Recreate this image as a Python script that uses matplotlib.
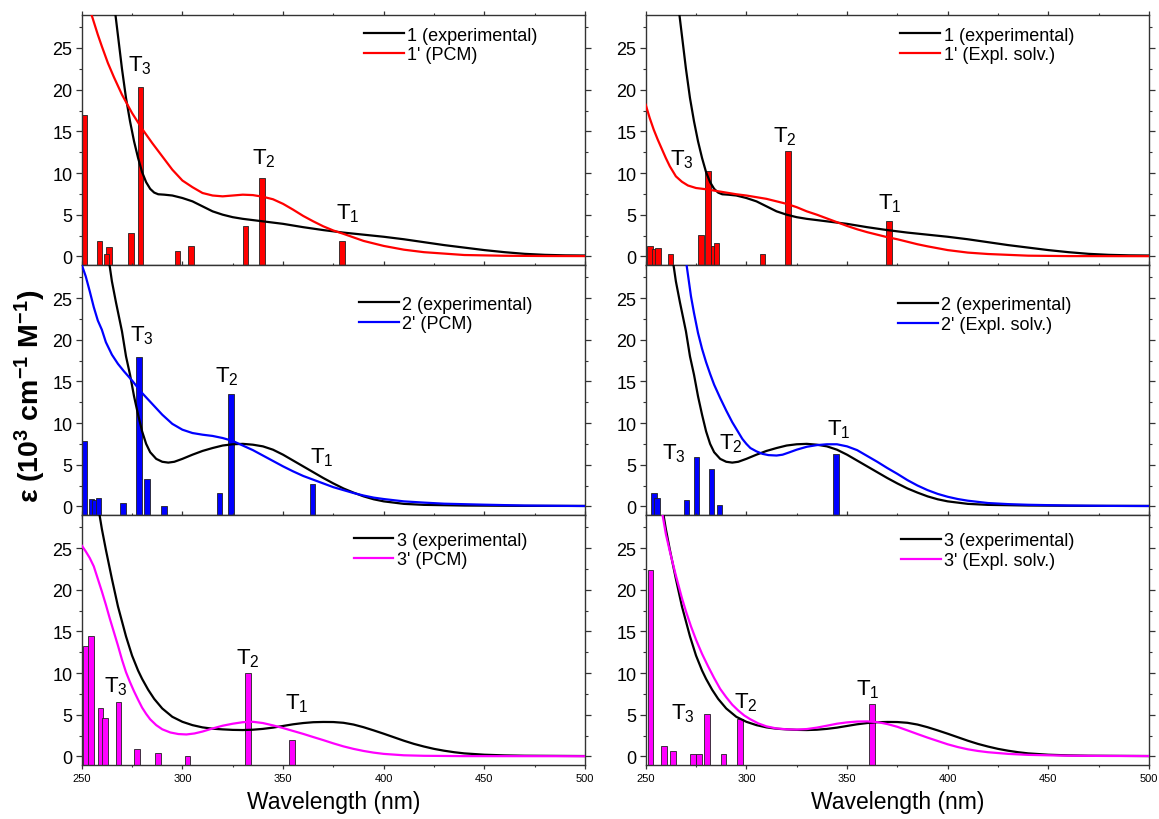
import matplotlib
matplotlib.use('Agg')
import matplotlib.pyplot as plt
from matplotlib.ticker import MultipleLocator

plt.rcParams['font.family'] = ['Liberation Sans', 'DejaVu Sans']
plt.rcParams['mathtext.fontset'] = 'custom'
plt.rcParams['mathtext.rm'] = 'Liberation Sans'
plt.rcParams['mathtext.bf'] = 'Liberation Sans:bold'
plt.rcParams['mathtext.it'] = 'Liberation Sans:italic'

# experimental spectra (same in both columns)
exp1_nm = [266.5, 268, 270, 272, 274, 276, 278, 280, 282, 284, 286, 288, 291, 295, 300, 305, 310, 315, 320, 325,
           330, 340, 350, 360, 370, 380, 390, 400, 410, 420, 430, 440, 450, 460, 470, 480, 490, 500]
exp1_eps = [29.5, 26.5, 22.5, 19.0, 16.2, 13.8, 11.8, 10.1, 8.9, 8.1, 7.65, 7.45, 7.4, 7.3, 7.0, 6.6, 6.0, 5.4, 5.0, 4.7,
            4.5, 4.2, 3.9, 3.5, 3.15, 2.85, 2.6, 2.35, 2.05, 1.7, 1.35, 1.05, 0.75, 0.5, 0.3, 0.18, 0.12, 0.1]

exp2_nm = [263.5, 265, 267, 270, 272, 274, 276, 278, 280, 282, 284, 287, 290, 293, 296, 300, 305, 310, 315, 320,
           325, 330, 335, 340, 345, 350, 355, 360, 365, 370, 375, 380, 385, 390, 395, 400, 410, 420, 440, 470, 500]
exp2_eps = [29.5, 27.0, 24.5, 21.0, 18.0, 15.8, 13.2, 11.0, 9.0, 7.5, 6.5, 5.7, 5.35, 5.25, 5.35, 5.7, 6.2, 6.65, 7.0, 7.3,
            7.45, 7.5, 7.4, 7.2, 6.8, 6.2, 5.5, 4.8, 4.1, 3.4, 2.75, 2.15, 1.65, 1.2, 0.85, 0.6, 0.3, 0.18, 0.1, 0.06, 0.05]

exp3_nm = [258.5, 260, 262, 265, 268, 270, 272, 275, 278, 280, 283, 286, 290, 295, 300, 305, 310, 315, 320, 325,
           330, 335, 340, 345, 350, 355, 360, 365, 370, 375, 380, 385, 390, 395, 400, 405, 410, 415, 420, 425,
           430, 435, 440, 450, 460, 470, 500]
exp3_eps = [29.5, 27.3, 24.8, 21.3, 18.0, 16.2, 14.4, 12.1, 10.3, 9.3, 8.0, 6.9, 5.75, 4.75, 4.15, 3.75, 3.48, 3.32, 3.24, 3.18,
            3.16, 3.2, 3.3, 3.45, 3.65, 3.85, 4.0, 4.1, 4.13, 4.12, 4.03, 3.82, 3.5, 3.12, 2.72, 2.3, 1.88, 1.5, 1.18, 0.9,
            0.68, 0.5, 0.36, 0.2, 0.12, 0.08, 0.04]

# computed spectra, PCM (left column)
pcm1_nm = [252, 255, 258, 260, 263, 266, 270, 275, 280, 285, 290, 295, 300, 305, 310, 315, 320, 325, 330, 335,
           340, 345, 350, 355, 360, 365, 370, 375, 380, 390, 400, 410, 420, 440, 460, 480, 500]
pcm1_eps = [30.5, 28.9, 26.6, 25.2, 23.2, 21.5, 19.4, 17.2, 15.3, 13.6, 12.0, 10.4, 9.1, 8.3, 7.6, 7.3, 7.2, 7.3, 7.4, 7.35,
            7.15, 6.85, 6.3, 5.6, 4.85, 4.2, 3.6, 3.1, 2.7, 1.85, 1.25, 0.8, 0.5, 0.16, 0.07, 0.04, 0.03]

pcm2_nm = [250, 252, 254, 256, 258, 260, 262, 265, 268, 271, 275, 280, 285, 290, 295, 300, 305, 310, 315, 320,
           325, 330, 335, 340, 345, 350, 355, 360, 365, 370, 375, 380, 385, 390, 395, 400, 410, 420, 430, 450, 470, 500]
pcm2_eps = [29.0, 27.6, 25.8, 23.9, 22.3, 21.2, 19.7, 18.2, 17.1, 16.2, 15.1, 13.6, 12.3, 11.0, 9.9, 9.2, 8.8, 8.6, 8.45, 8.2,
            7.85, 7.3, 6.75, 6.1, 5.45, 4.8, 4.2, 3.65, 3.2, 2.75, 2.3, 1.95, 1.6, 1.3, 1.05, 0.88, 0.6, 0.45, 0.32, 0.2, 0.1, 0.04]

pcm3_nm = [250, 252, 254, 256, 258, 260, 262, 264, 266, 268, 270, 272, 274, 276, 278, 280, 282, 284, 287, 290,
           294, 298, 302, 306, 310, 315, 320, 325, 330, 335, 340, 345, 350, 355, 360, 365, 370, 375, 380, 385,
           390, 395, 400, 410, 420, 440, 500]
pcm3_eps = [25.3, 24.6, 23.8, 22.8, 21.3, 19.8, 18.2, 16.5, 14.9, 13.3, 11.6, 10.1, 8.9, 7.8, 6.8, 5.85, 5.1, 4.45, 3.75, 3.25,
            2.87, 2.68, 2.63, 2.75, 2.98, 3.35, 3.68, 3.92, 4.1, 4.15, 4.0, 3.72, 3.4, 3.05, 2.7, 2.32, 1.95, 1.56, 1.2, 0.9,
            0.65, 0.45, 0.3, 0.13, 0.07, 0.03, 0.02]

# computed spectra, explicit solvent (right column)
sol1_nm = [250, 252, 254, 256, 258, 260, 262, 265, 268, 271, 275, 280, 285, 290, 295, 300, 305, 310, 315, 320,
           325, 330, 335, 340, 345, 350, 355, 360, 365, 370, 375, 380, 385, 390, 400, 410, 420, 440, 460, 500]
sol1_eps = [18.2, 16.6, 15.2, 14.0, 12.9, 11.8, 10.8, 9.6, 8.95, 8.5, 8.2, 8.05, 7.85, 7.65, 7.45, 7.3, 7.1, 6.9, 6.6, 6.3,
            5.9, 5.4, 5.0, 4.55, 4.1, 3.65, 3.25, 2.9, 2.6, 2.3, 2.05, 1.75, 1.45, 1.2, 0.75, 0.45, 0.28, 0.08, 0.03, 0.02]

sol2_nm = [270, 272.5, 274, 276, 278, 280, 282, 284, 287, 290, 293, 296, 298, 300, 302, 305, 308, 311, 315, 318,
           321, 325, 330, 335, 340, 345, 350, 355, 360, 365, 370, 375, 380, 385, 390, 395, 400, 405, 410, 420,
           430, 440, 460, 480, 500]
sol2_eps = [29.5, 25.2, 23.2, 20.8, 18.9, 17.3, 15.9, 14.6, 13.0, 11.5, 10.1, 8.9, 8.1, 7.5, 7.0, 6.6, 6.3, 6.15, 6.1, 6.2,
            6.45, 6.8, 7.15, 7.35, 7.45, 7.45, 7.2, 6.75, 6.05, 5.35, 4.6, 3.9, 3.15, 2.5, 1.95, 1.5, 1.15, 0.88, 0.68, 0.4,
            0.27, 0.19, 0.1, 0.06, 0.04]

sol3_nm = [258, 260, 262, 265, 268, 270, 272.5, 275, 278, 281, 284, 287, 290, 293, 296, 299, 302, 306, 310, 315,
           320, 325, 330, 335, 340, 345, 350, 355, 360, 365, 370, 375, 380, 385, 390, 395, 400, 405, 410, 415,
           420, 430, 440, 460, 480, 500]
sol3_eps = [29.5, 26.7, 24.6, 21.7, 19.0, 17.4, 15.6, 14.0, 12.3, 10.8, 9.4, 8.1, 7.1, 6.2, 5.5, 4.9, 4.45, 3.95, 3.6, 3.35,
            3.25, 3.22, 3.28, 3.45, 3.68, 3.92, 4.08, 4.18, 4.2, 4.12, 3.88, 3.55, 3.12, 2.68, 2.25, 1.85, 1.45, 1.12, 0.85, 0.65,
            0.5, 0.3, 0.18, 0.08, 0.05, 0.04]

# transitions (sticks)
st1_pcm_nm = [251.0, 258.8, 263.6, 262.3, 274.4, 279.2, 297.6, 304.2, 331.3, 339.5, 379.2]
st1_pcm_f = [17.0, 1.8, 1.1, 0.3, 2.8, 20.3, 0.6, 1.3, 3.7, 9.4, 1.9]
st1_sol_nm = [252.2, 254.5, 256.2, 262.3, 277.5, 281.0, 283.6, 285.2, 308.1, 320.7, 371.0]
st1_sol_f = [1.2, 0.9, 1.0, 0.3, 2.6, 10.3, 1.2, 1.6, 0.3, 12.6, 4.3]

st2_pcm_nm = [251.3, 254.8, 256.5, 258.3, 270.4, 278.3, 282.5, 291.0, 318.4, 324.1, 364.7]
st2_pcm_f = [7.9, 0.9, 0.8, 1.0, 0.45, 17.9, 3.25, 0.1, 1.65, 13.5, 2.7]
st2_sol_nm = [248.9, 254.1, 255.7, 270.3, 275.3, 282.7, 286.7, 344.6]
st2_sol_f = [13.5, 1.55, 1.0, 0.75, 5.9, 4.45, 0.15, 6.3]

st3_pcm_nm = [252.0, 254.6, 259.4, 261.6, 268.2, 277.4, 287.9, 302.6, 332.5, 354.6]
st3_pcm_f = [13.2, 14.4, 5.8, 4.6, 6.5, 0.9, 0.35, 0.05, 10.0, 2.0]
st3_sol_nm = [252.4, 259.2, 263.7, 273.6, 276.4, 280.4, 288.6, 296.9, 362.4]
st3_sol_f = [22.4, 1.25, 0.65, 0.3, 0.25, 5.05, 0.25, 4.45, 6.25]

# T1..T3 label anchors (lower-left of the "T")
lab1_pcm = [(376.1, 4.56), (334.4, 11.2), (273.0, 22.3)]
lab1_sol = [(365.3, 5.76), (313.1, 13.8), (262.0, 11.0)]
lab2_pcm = [(363.2, 5.3), (316.0, 15.0), (274.1, 19.9)]
lab2_sol = [(340.2, 8.6), (286.3, 7.0), (258.1, 5.8)]
lab3_pcm = [(350.9, 5.7), (326.5, 11.2), (261.2, 7.85)]
lab3_sol = [(354.6, 7.44), (293.9, 5.84), (262.4, 4.56)]

YMIN, YMAX = -1, 29

fig = plt.figure(figsize=(11.59, 8.2), dpi=100)

lefts = [0.0705, 0.5571]
w = 0.4343
h = 0.3049
bottoms = [0.0662 + 2 * h, 0.0662 + h, 0.0662]


def panel(ax, exp_nm, exp_eps, calc_nm, calc_eps, st_nm, st_f, labels, color, lab_exp, lab_calc, leg_xy, bottom_row):
    ax.bar(st_nm, [f - YMIN for f in st_f], bottom=YMIN, width=2.8, color=color,
           edgecolor='#222222', linewidth=0.6, zorder=2)
    l1, = ax.plot(exp_nm, exp_eps, color='black', lw=1.6, zorder=3)
    l2, = ax.plot(calc_nm, calc_eps, color=color, lw=1.6, zorder=3)
    for i, (x, y) in enumerate(labels):
        ax.text(x, y, r'$\mathregular{T_%d}$' % (i + 1), fontsize=16, ha='left', va='baseline', zorder=4)
    ax.legend([l1, l2], [lab_exp, lab_calc], loc='upper left', bbox_to_anchor=leg_xy, frameon=False,
              fontsize=13, handlelength=2.2, handletextpad=0.2, labelspacing=0.15, borderpad=0,
              borderaxespad=0)
    ax.set_xlim(250, 500)
    ax.set_ylim(YMIN, YMAX)
    ax.xaxis.set_major_locator(MultipleLocator(50))
    ax.xaxis.set_minor_locator(MultipleLocator(25))
    ax.yaxis.set_major_locator(MultipleLocator(5))
    ax.yaxis.set_minor_locator(MultipleLocator(2.5))
    ax.tick_params(which='both', direction='out', top=True, right=True, color='#333333')
    ax.tick_params(axis='y', which='major', length=4.3, width=0.9, labelsize=13, pad=2.4)
    ax.tick_params(axis='y', which='minor', length=2.0, width=0.8)
    ax.tick_params(axis='x', which='major', length=3.1, width=0.9, labelsize=8, pad=3)
    ax.tick_params(axis='x', which='minor', length=1.7, width=0.8)
    for s in ax.spines.values():
        s.set_color('#333333')
        s.set_linewidth(1.0)
    if bottom_row:
        ax.set_xlabel('Wavelength (nm)', fontsize=16.5, labelpad=5)
    else:
        ax.tick_params(axis='x', labelbottom=False)


specs = [
    (exp1_nm, exp1_eps, pcm1_nm, pcm1_eps, st1_pcm_nm, st1_pcm_f, lab1_pcm, 'red', '1 (experimental)', "1' (PCM)", (0.561, 0.952)),
    (exp1_nm, exp1_eps, sol1_nm, sol1_eps, st1_sol_nm, st1_sol_f, lab1_sol, 'red', '1 (experimental)', "1' (Expl. solv.)", (0.506, 0.952)),
    (exp2_nm, exp2_eps, pcm2_nm, pcm2_eps, st2_pcm_nm, st2_pcm_f, lab2_pcm, 'blue', '2 (experimental)', "2' (PCM)", (0.551, 0.876)),
    (exp2_nm, exp2_eps, sol2_nm, sol2_eps, st2_sol_nm, st2_sol_f, lab2_sol, 'blue', '2 (experimental)', "2' (Expl. solv.)", (0.501, 0.874)),
    (exp3_nm, exp3_eps, pcm3_nm, pcm3_eps, st3_pcm_nm, st3_pcm_f, lab3_pcm, 'magenta', '3 (experimental)', "3' (PCM)", (0.540, 0.932)),
    (exp3_nm, exp3_eps, sol3_nm, sol3_eps, st3_sol_nm, st3_sol_f, lab3_sol, 'magenta', '3 (experimental)', "3' (Expl. solv.)", (0.507, 0.930)),
]

for k, sp in enumerate(specs):
    row, col = divmod(k, 2)
    ax = fig.add_axes([lefts[col], bottoms[row], w, h])
    panel(ax, *sp, bottom_row=(row == 2))

fig.text(0.026, 0.516, r'$\mathbf{ε\ (10^{3}\ cm^{-1}\ M^{-1})}$', rotation=90,
         ha='center', va='center', fontsize=20.5)

fig.savefig('out.png', dpi=100)
